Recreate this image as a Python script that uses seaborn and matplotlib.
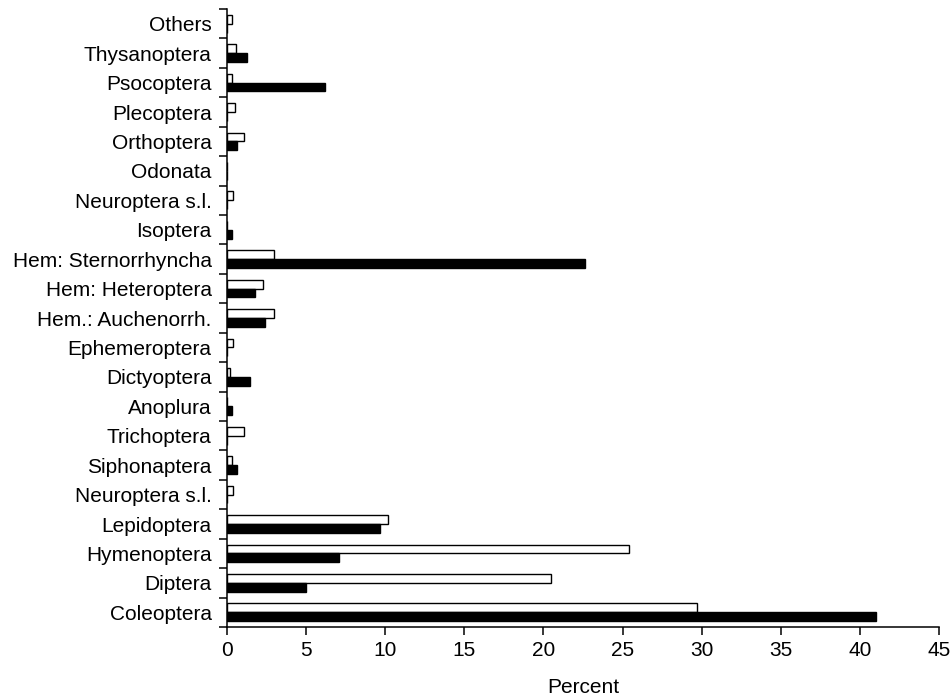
import matplotlib
matplotlib.use("Agg")
import matplotlib.pyplot as plt
import seaborn as sns
import pandas as pd
import numpy as np
from matplotlib.ticker import FixedLocator

categories = ["Others", "Thysanoptera", "Psocoptera", "Plecoptera", "Orthoptera",
              "Odonata", "Neuroptera s.l.", "Isoptera", "Hem: Sternorrhyncha",
              "Hem: Heteroptera", "Hem.: Auchenorrh.", "Ephemeroptera", "Dictyoptera",
              "Anoplura", "Trichoptera", "Siphonaptera", "Neuroptera s.l.",
              "Lepidoptera", "Hymenoptera", "Diptera", "Coleoptera"]
series_open = [0.3, 0.6, 0.3, 0.5, 1.1, 0.0, 0.4, 0.0, 3.0,
               2.3, 3.0, 0.4, 0.2, 0.0, 1.1, 0.3, 0.4,
               10.2, 25.4, 20.5, 29.7]
series_filled = [0.0, 1.25, 6.2, 0.0, 0.65, 0.0, 0.0, 0.35, 22.6,
                 1.75, 2.4, 0.0, 1.45, 0.35, 0.0, 0.65, 0.0,
                 9.7, 7.1, 5.0, 41.0]
series_names = ["Open", "Filled"]
xticks = [0, 5, 10, 15, 20, 25, 30, 35, 40, 45]

# unique keys per row (two rows share the label "Neuroptera s.l.")
keys = [f"{i:02d}" for i in range(len(categories))]
df = pd.DataFrame({
    "cat": keys * 2,
    "val": series_open + series_filled,
    "series": [series_names[0]] * len(categories) + [series_names[1]] * len(categories),
})

sns.set_style("ticks")
plt.rcParams['font.family'] = ['Liberation Sans', 'DejaVu Sans']
plt.rcParams['text.color'] = 'black'
plt.rcParams['xtick.color'] = 'black'
plt.rcParams['ytick.color'] = 'black'
plt.rcParams['axes.labelcolor'] = 'black'
plt.rcParams['axes.edgecolor'] = 'black'

fig = plt.figure(figsize=(9.52, 6.98), dpi=100)
ax = fig.add_axes([0.2384, 0.1017, 0.7479, 0.8854])

sns.barplot(data=df, x="val", y="cat", hue="series", order=keys,
            hue_order=series_names, palette=["white", "black"], orient="h",
            width=0.6, edgecolor="black", linewidth=1.0, legend=False, ax=ax,
            err_kws={"linewidth": 0})

n = len(categories)
ax.set_ylim(n - 0.5, -0.5)
ax.set_yticks(range(n))
ax.set_yticklabels(categories)
ax.set_xlim(0, 45)
ax.set_xticks(xticks)
ax.set_xticklabels([str(t) for t in xticks], fontsize=15)
ax.tick_params(axis="x", direction="out", length=6, width=1.1, pad=4)
ax.tick_params(axis="y", which="major", length=0, pad=11, labelsize=15)
ax.yaxis.set_minor_locator(FixedLocator(np.arange(-0.5, n, 1.0)))
ax.tick_params(axis="y", which="minor", direction="out", length=6, width=1.1)
ax.set_xlabel("Percent", fontsize=15, labelpad=13)
ax.set_ylabel("")
for s in ["top", "right"]:
    ax.spines[s].set_visible(False)
for s in ["left", "bottom"]:
    ax.spines[s].set_linewidth(1.1)
ax.spines["bottom"].set_bounds(0, 45)

fig.savefig("out.png", dpi=100, facecolor="white")
